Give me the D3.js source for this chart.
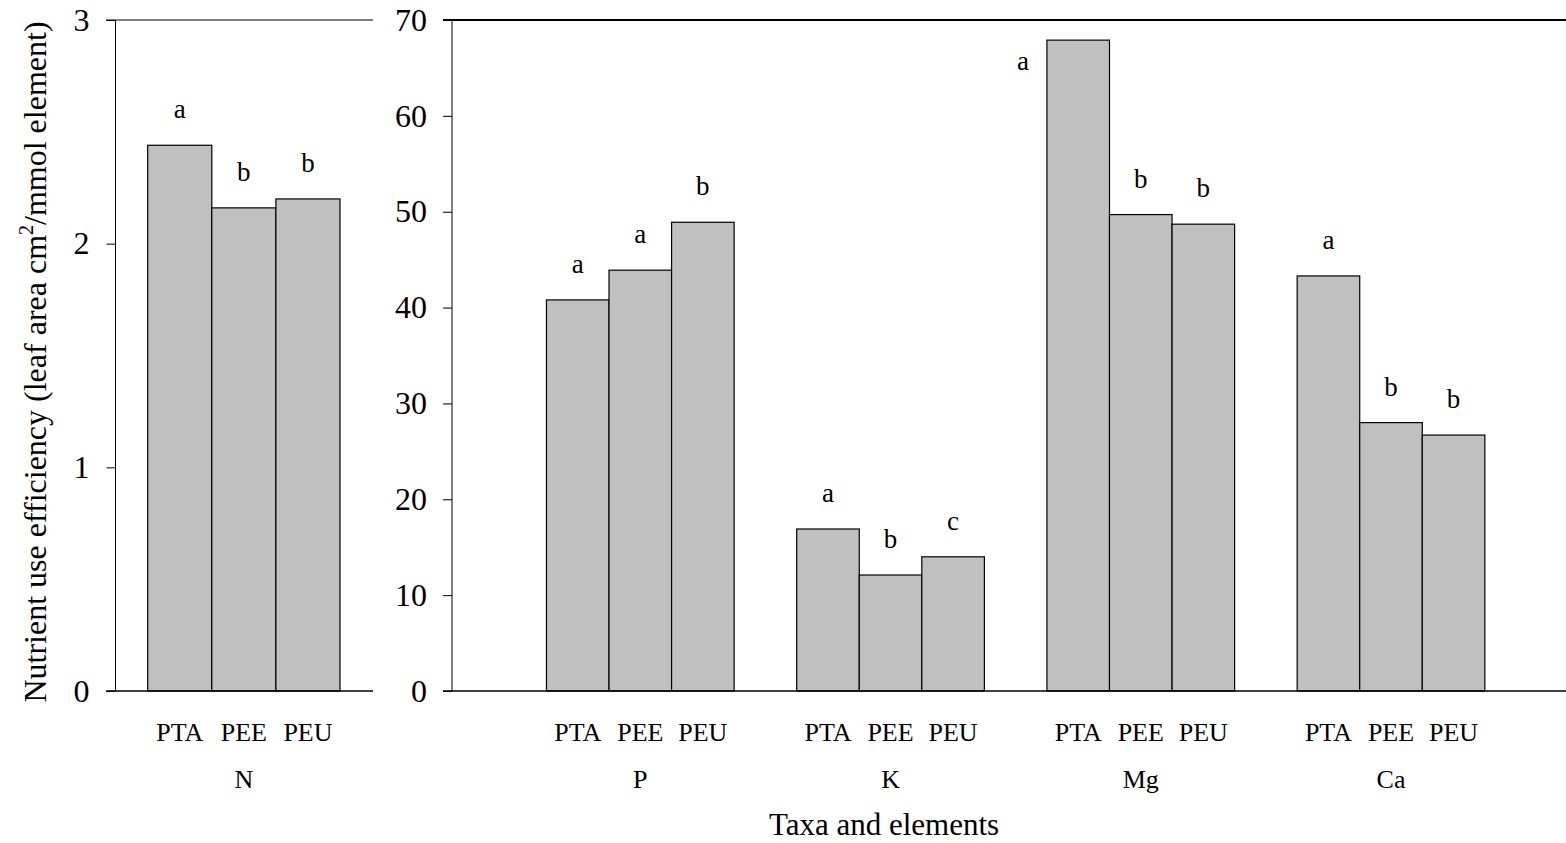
<!DOCTYPE html>
<html><head><meta charset="utf-8">
<script src="https://cdn.jsdelivr.net/npm/d3@7"></script>
<style>body{margin:0;background:#fff}svg{display:block}</style>
</head><body><svg id="c" width="1566" height="843"></svg>
<script>
const taxa = ["PTA","PEE","PEU"];
const nValues = [2.44, 2.16, 2.20];
const nLetters = ["a","b","b"];
const elements = ["P","K","Mg","Ca"];
const pValues = [40.8, 43.9, 48.9];
const kValues = [16.9, 12.1, 14.0];
const mgValues = [67.9, 49.7, 48.7];
const caValues = [43.3, 28.0, 26.7];
const pLetters = ["a","a","b"];
const kLetters = ["a","b","c"];
const mgLetters = ["a","b","b"];
const caLetters = ["a","b","b"];
const leftTicks = [0,1,2,3];
const rightTicks = [0,10,20,30,40,50,60,70];

const FONT = "'Liberation Serif', 'Times New Roman', serif";
const svg = d3.select("#c");
const y0 = 691, yTop = 20;
const fill = "#c0c0c0";
const TICK_FS = 32, CAT_FS = 26, LET_FS = 27, TITLE_FS = 31;
const ser = sel => sel.style("font-family", FONT).style("fill","#000");

// Left panel
const yL = d3.scaleLinear().domain([0,3]).range([y0,yTop]);
const xL = d3.scaleLinear().domain([0,1]).range([147.7, 340]);
const axL = 115.5;
const gL = svg.append("g");
gL.append("line").attr("x1",106).attr("x2",373).attr("y1",yTop).attr("y2",yTop).attr("stroke","#555").attr("stroke-width",1.5);
gL.append("g").attr("transform",`translate(${axL},0)`).call(d3.axisLeft(yL).tickValues(leftTicks).tickSize(9).tickPadding(17).tickFormat(d3.format("d")))
  .call(g=>{g.select(".domain").attr("stroke","#000").attr("d",`M0,${y0}V${yTop}`);g.selectAll("text").attr("font-size",TICK_FS).call(ser);});
const bwL = (xL(1)-xL(0))/3;
gL.selectAll("rect").data(nValues).join("rect")
  .attr("x",(d,i)=>xL(0)+i*bwL).attr("width",bwL).attr("y",d=>yL(d)).attr("height",d=>y0-yL(d))
  .attr("fill",fill).attr("stroke","#000").attr("stroke-width",1.2);
gL.append("line").attr("x1",106).attr("x2",373).attr("y1",y0).attr("y2",y0).attr("stroke","#000").attr("stroke-width",1.5);
gL.selectAll("text.lt").data(nValues).join("text").attr("class","lt")
  .attr("x",(d,i)=>xL(0)+(i+0.5)*bwL).attr("y",d=>yL(d)-27).attr("text-anchor","middle").attr("font-size",LET_FS).call(ser).text((d,i)=>nLetters[i]);
gL.selectAll("text.tx").data(taxa).join("text").attr("class","tx")
  .attr("x",(d,i)=>xL(0)+(i+0.5)*bwL).attr("y",741).attr("text-anchor","middle").attr("font-size",CAT_FS).call(ser).text(d=>d);
gL.append("text").attr("x",xL(0.5)).attr("y",788).attr("text-anchor","middle").attr("font-size",CAT_FS).call(ser).text("N");

// Right panel
const yR = d3.scaleLinear().domain([0,70]).range([y0,yTop]);
const xR = d3.scaleLinear().domain([0,3]).range([640.3,1391]);
const bw = xR(0.25)-xR(0);
const axR = 452;
const gR = svg.append("g");
gR.append("line").attr("x1",443).attr("x2",1566).attr("y1",yTop).attr("y2",yTop).attr("stroke","#000").attr("stroke-width",1.8);
gR.append("g").attr("transform",`translate(${axR},0)`).call(d3.axisLeft(yR).tickValues(rightTicks).tickSize(9).tickPadding(16).tickFormat(d3.format("d")))
  .call(g=>{g.select(".domain").attr("stroke","#000").attr("d",`M0,${y0}V${yTop}`);g.selectAll("text").attr("font-size",TICK_FS).call(ser);});
const series = [pValues,kValues,mgValues,caValues];
const letters = [pLetters,kLetters,mgLetters,caLetters];
const flat = [];
series.forEach((vals,gi)=>vals.forEach((v,ti)=>flat.push({gi,ti,v,l:letters[gi][ti]})));
const bx = d=>xR(d.gi)+(d.ti-1.5)*bw;
gR.selectAll("rect").data(flat).join("rect")
  .attr("x",bx).attr("width",bw).attr("y",d=>yR(d.v)).attr("height",d=>y0-yR(d.v))
  .attr("fill",fill).attr("stroke","#000").attr("stroke-width",1.2);
gR.append("line").attr("x1",443).attr("x2",1566).attr("y1",y0).attr("y2",y0).attr("stroke","#000").attr("stroke-width",1.5);
gR.selectAll("text.lt").data(flat).join("text").attr("class","lt")
  .attr("x",d=> (yR(d.v) < 60 ? bx(d)-24 : bx(d)+bw/2))
  .attr("y",d=> (yR(d.v) < 60 ? yR(d.v)+30 : yR(d.v)-27))
  .attr("text-anchor","middle").attr("font-size",LET_FS).call(ser).text(d=>d.l);
gR.selectAll("text.tx").data(flat).join("text").attr("class","tx")
  .attr("x",d=>bx(d)+bw/2).attr("y",741).attr("text-anchor","middle").attr("font-size",CAT_FS).call(ser).text(d=>taxa[d.ti]);
gR.selectAll("text.el").data(elements).join("text").attr("class","el")
  .attr("x",(d,i)=>xR(i)).attr("y",788).attr("text-anchor","middle").attr("font-size",CAT_FS).call(ser).text(d=>d);

svg.append("text").attr("x",884).attr("y",835).attr("text-anchor","middle").attr("font-size",TITLE_FS).call(ser).text("Taxa and elements");

const yl = svg.append("text").attr("transform","translate(46,362) rotate(-90)").attr("text-anchor","middle").attr("font-size",32).call(ser);
yl.append("tspan").text("Nutrient use efficiency (leaf area cm");
yl.append("tspan").attr("dy",-13).attr("font-size",20).text("2");
yl.append("tspan").attr("dy",13).text("/mmol element)");
</script></body></html>
